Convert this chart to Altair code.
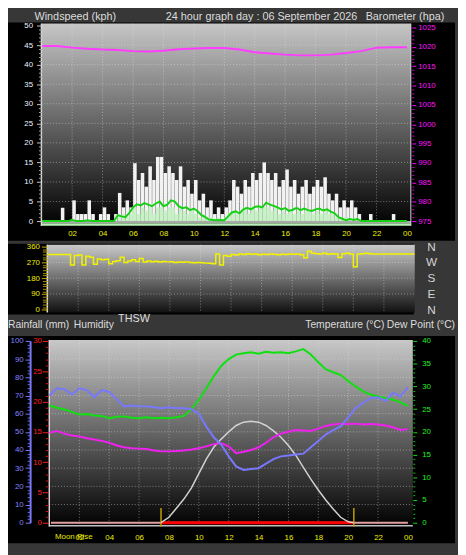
import altair as alt
import pandas as pd

FONT = "Liberation Sans"
W, H = 458, 547
BG = "#373737"

# ---------------- values ----------------
title_left = "Windspeed (kph)"
title_mid = "24 hour graph day : 06 September 2026"
title_right = "Barometer (hpa)"

baro_hour = list(range(25))
baro_hpa = [1020.2, 1020.2, 1019.8, 1019.5, 1019.3, 1019.2, 1018.9, 1018.8,
            1019.0, 1019.4, 1019.6, 1019.7, 1019.7, 1019.3, 1018.6, 1018.3,
            1018.0, 1017.8, 1017.8, 1018.0, 1018.4, 1018.9, 1019.8, 1019.9, 1019.9]

# 15-minute wind gusts (white bars)
gust_kph = [0, 0, 0, 0, 0, 3.4, 0, 0, 5.3, 1.8, 1.8, 1.8, 5.3, 1.8, 0, 1.8, 3.5, 1.8, 0, 1.8,
            7.2, 3.5, 5.3, 3.5, 14.8, 10.5, 12.3, 8.8, 14.0, 10.5, 16.4, 16.4, 12.3, 14.0, 12.3, 10.5, 14.0, 8.8, 10.5, 7.0,
            10.5, 5.3, 7.0, 3.5, 5.3, 1.8, 3.5, 1.8, 3.5, 5.3, 10.5, 8.8, 7.0, 10.5, 8.8, 12.3, 10.5, 12.3, 15.0, 12.3,
            10.5, 12.3, 8.8, 10.5, 13.2, 8.8, 10.5, 7.0, 8.8, 10.5, 7.0, 8.8, 10.5, 8.8, 11.2, 7.0, 5.3, 7.0, 3.5, 5.3,
            3.5, 5.3, 3.5, 1.8, 0, 0, 1.8, 0, 0, 0, 0, 0, 1.8, 0, 0, 0]
# 15-minute average wind (light green bars)
avg_bar_kph = [0, 0, 0, 0, 0, 0, 0, 0, 0, 0, 0, 0, 0, 0, 0, 0, 0, 0, 0, 0,
               0.9, 1.8, 0.9, 1.8, 3.5, 1.8, 3.5, 2.6, 3.5, 1.8, 3.5, 3.5, 2.6, 3.5, 3.5, 1.8, 3.5, 2.6, 1.8, 2.6,
               1.8, 0.9, 1.8, 0.9, 0.9, 0, 0.9, 0, 0.9, 1.8, 2.6, 1.8, 2.6, 3.5, 1.8, 3.5, 2.6, 3.5, 3.5, 3.5,
               2.6, 3.5, 1.8, 2.6, 1.8, 2.6, 1.8, 2.6, 1.8, 2.6, 2.6, 1.8, 2.6, 1.8, 2.6, 1.8, 1.8, 0.9, 0.9, 0.9,
               0.9, 0, 0.9, 0, 0, 0, 0, 0, 0, 0, 0, 0, 0, 0, 0, 0]
# average wind line, every 15 minutes from 00:00 to 24:00
avg_line_kph = [0, 0, 0, 0, 0, 0, 0, 0, 0.3, 0, 0, 0, 0.2, 0, 0, 0, 0, 0, 0, 0,
                1.5, 1.2, 1.0, 2.0, 3.5, 4.3, 4.0, 4.6, 4.2, 3.8, 4.5, 5.0, 3.8, 4.2, 5.3, 5.0, 3.8, 3.3, 3.5, 2.8,
                3.2, 2.5, 1.5, 1.0, 0.4, 0.3, 0.2, 0.3, 0.2, 1.2, 2.2, 2.5, 2.0, 3.0, 3.4, 3.0, 3.6, 3.8, 3.5, 4.7,
                4.2, 3.9, 3.5, 3.0, 3.3, 2.6, 2.9, 3.4, 2.8, 3.2, 2.8, 2.6, 3.0, 3.2, 2.7, 3.0, 2.4, 2.0, 1.0, 0.6,
                0.2, 0.5, 0.3, 0.5, 0, 0, 0, 0, 0, 0, 0, 0, 0, 0, 0, 0, 0]
# wind direction, every 15 minutes
dir_deg = [315, 315, 315, 315, 315, 315,
           255, 310, 312, 255, 305, 300, 260, 290, 285, 288, 262, 275, 280, 300, 270, 278, 285, 275, 292, 272, 278,
           274, 276, 272, 275, 273, 274, 270, 272, 271, 273, 270, 268, 270, 268,
           266, 265, 262, 318, 255, 310, 305, 315,
           312, 318, 315, 320, 316, 318, 314, 317, 315, 318, 316, 314, 317, 315, 318, 316, 318, 314, 296, 334,
           322, 320, 318, 322, 316, 320, 318, 298, 320, 322, 318, 245, 318, 320, 322, 320,
           318, 318, 318, 318, 318, 318, 318, 318, 318, 318, 318, 318]

# half-hourly humidity / temperature / dew point
hum_pct = [70, 74, 73.5, 70.5, 74, 73, 69, 73, 72, 68, 64, 64.5, 64, 64, 63.5, 63, 63.5, 63, 63, 62.5,
           60, 53, 47, 43, 36.5, 31, 29, 29.5, 30, 32.5, 35, 36.5, 37, 37.5, 38, 41.5, 45, 48.5, 51, 53,
           58, 63, 66, 68.5, 69, 67, 71.5, 69.5, 74.5]
temp_c = [25.8, 25.3, 24.9, 24.4, 23.8, 23.9, 23.6, 23.5, 23.0, 23.3, 23.4, 23.1, 23.0, 23.2, 23.0, 23.1, 23.0,
          23.2, 23.5, 25.0, 27.0, 29.6, 32.2, 34.5, 36.0, 37.0, 37.3, 37.5, 37.2, 37.6, 37.4, 37.5, 37.3, 37.7,
          38.2, 37.0, 35.3, 33.8, 33.1, 32.5, 31.2, 30.0, 28.9, 28.2, 27.8, 27.4, 27.1, 26.5, 25.7]
dew_c = [19.8, 20.2, 19.6, 19.2, 19.0, 18.6, 18.3, 18.0, 17.6, 17.0, 16.6, 16.4, 16.3, 16.2, 15.9, 15.7, 15.7,
         15.8, 15.9, 16.1, 16.4, 16.8, 17.3, 17.5, 16.8, 15.3, 15.6, 16.0, 16.6, 17.6, 18.8, 19.6, 20.0, 20.4,
         20.3, 20.2, 20.7, 21.3, 21.6, 21.8, 21.7, 21.8, 21.6, 21.7, 21.6, 21.4, 21.0, 20.4, 20.6]

solar_hour = [7.47, 8.0, 8.5, 9.0, 9.5, 10.0, 10.5, 11.0, 11.5, 12.0, 12.5, 13.0, 13.5, 14.0, 14.5,
              15.0, 15.5, 16.0, 16.5, 17.0, 17.5, 18.0, 18.5, 19.0, 19.5, 20.0, 20.38]
solar_rel = [0, 3, 8, 13, 19, 27, 35, 41.5, 46, 50, 53.5, 55.3, 55.8, 55.3, 53.5,
             50.5, 47, 42.5, 37, 30.5, 24, 18, 12.5, 7.5, 3, 0.5, 0]

sunrise_hour = 7.47
sunset_hour = 20.38
rain_hour = [0.1, 24]
rain_mm = [0, 0]

grid_hours = [2, 4, 6, 8, 10, 12, 14, 16, 18, 20, 22]
hour_ticks = [2, 4, 6, 8, 10, 12, 14, 16, 18, 20, 22, 24]
wind_ticks = [0, 5, 10, 15, 20, 25, 30, 35, 40, 45, 50]
baro_ticks = [975, 980, 985, 990, 995, 1000, 1005, 1010, 1015, 1020, 1025]
dir_ticks = [0, 90, 180, 270, 360]
compass = ["N", "E", "S", "W", "N"]
hum_ticks = [0, 10, 20, 30, 40, 50, 60, 70, 80, 90, 100]
rain_ticks = [0, 5, 10, 15, 20, 25, 30]
temp_ticks = [0, 5, 10, 15, 20, 25, 30, 35, 40]

# ---------------- tables ----------------
q_mid = [i * 0.25 + 0.125 for i in range(96)]
q_pt = [i * 0.25 for i in range(97)]
h_half = [i * 0.5 for i in range(49)]
df_bar = pd.DataFrame({"h": q_mid, "gust": gust_kph, "avg": avg_bar_kph, "base": [0.0] * 96})
df_wline = pd.DataFrame({"h": q_pt, "v": avg_line_kph})
df_dir = pd.DataFrame({"h": q_pt, "v": dir_deg})
df_baro = pd.DataFrame({"h": baro_hour, "v": baro_hpa})
df_th = pd.DataFrame({"h": h_half, "hum": hum_pct, "t": temp_c, "d": dew_c})
df_solar = pd.DataFrame({"h": solar_hour, "v": solar_rel})
df_rain = pd.DataFrame({"h": rain_hour, "v": rain_mm})
df_day = pd.DataFrame({"h": [sunrise_hour, sunset_hour], "v": [0, 0]})
df_sun = pd.DataFrame({"h": [sunrise_hour, sunset_hour]})
df_compass = pd.DataFrame({"v": dir_ticks, "t": compass})
ONE = pd.DataFrame({"k": [0]})


def sc(domain, rng):
    return alt.Scale(domain=domain, range=rng, nice=False, zero=False, padding=0)


X1 = sc([0, 24], [34.3, 406.0])
Y_WIND = sc([0, 50], [212, 13])
Y_BARO = sc([975, 1025], [212, 15])
X2 = sc([0, 24], [40.3, 413.7])
Y_DIR = sc([0, 360], [302.3, 238])
X3 = sc([0, 24], [42.2, 407.0])
Y_HUM = sc([0, 100], [519, 334])
Y_RAIN = sc([0, 30], [519, 334])
Y_TEMP = sc([0, 40], [519, 334])
Y_SOL = sc([0, 100], [519, 334])


def ax(**kw):
    base = dict(title=None, grid=False, zindex=1, labelFont=FONT, labelFontSize=8,
                labelOverlap=False, labelFlush=False, domain=False, format="d")
    base.update(kw)
    return alt.Axis(**base)


def grad(top, bottom):
    return alt.Gradient(gradient="linear", x1=0, y1=0, x2=0, y2=1,
                        stops=[alt.GradientStop(color=top, offset=0),
                               alt.GradientStop(color=bottom, offset=1)])


def rect(x0, x1, y0, y1, color):
    return alt.Chart(ONE).mark_rect(color=color).encode(
        x=alt.value(x0), x2=alt.value(x1), y=alt.value(y0), y2=alt.value(y1))


def seg(x0, x1, y0, y1, color, w):
    return alt.Chart(ONE).mark_rule(color=color, strokeWidth=w).encode(
        x=alt.value(x0), x2=alt.value(x1), y=alt.value(y0), y2=alt.value(y1))


def label(s, x, y, color, size, align="left"):
    return alt.Chart(ONE).mark_text(text=s, align=align, baseline="middle", font=FONT,
                                    fontSize=size, color=color).encode(x=alt.value(x), y=alt.value(y))


def vgrid(xscale, y0, y1):
    return alt.Chart(pd.DataFrame({"h": grid_hours})).mark_rule(
        color="#e8e8e8", strokeDash=[1, 2], opacity=0.45, strokeWidth=1).encode(
        x=alt.X("h:Q", scale=xscale, axis=None), y=alt.value(y0), y2=alt.value(y1))


def hgrid(vals, yscale, x0, x1):
    return alt.Chart(pd.DataFrame({"v": vals})).mark_rule(
        color="#e8e8e8", strokeDash=[1, 2], opacity=0.45, strokeWidth=1).encode(
        y=alt.Y("v:Q", scale=yscale, axis=None), x=alt.value(x0), x2=alt.value(x1))


def y_axis(vals, scale, axis):
    return alt.Chart(pd.DataFrame({"v": vals})).mark_point(opacity=0).encode(
        y=alt.Y("v:Q", scale=scale, axis=axis))


def x_axis(vals, scale, axis):
    return alt.Chart(pd.DataFrame({"v": vals})).mark_point(opacity=0).encode(
        x=alt.X("v:Q", scale=scale, axis=axis))


HOUR_EXPR = "datum.value >= 24 ? '00' : (datum.value < 10 ? '0' + datum.value : '' + datum.value)"
TXT = "#dcdcdc"

layers = []
# ---- title strip ----
layers += [
    label(title_left, 27, 4.5, TXT, 11),
    label(title_mid, 258, 4.5, TXT, 11, "center"),
    label(title_right, 364, 4.5, TXT, 11),
]

# ---- panel 1 : wind + barometer ----
layers += [
    rect(0, 455, 10, 232, "#000000"),
    rect(34, 410, 11, 217, grad("#c6c6c6", "#000000")),
    vgrid(X1, 11, 212),
    hgrid([5, 10, 15, 20, 25, 30, 35, 40, 45], Y_WIND, 34, 410),
    alt.Chart(df_bar).mark_bar(width=3.6, color="#f2f2f2").encode(
        x=alt.X("h:Q", scale=X1, axis=None),
        y=alt.Y("gust:Q", scale=Y_WIND, axis=None), y2="base"),
    alt.Chart(df_bar).mark_bar(width=3.6, color="#c6f2c6").encode(
        x=alt.X("h:Q", scale=X1, axis=None),
        y=alt.Y("avg:Q", scale=Y_WIND, axis=None), y2="base"),
    seg(34, 410, 213, 213, "#a8a8a8", 2),
    seg(34, 410, 215.5, 215.5, "#b8f0b8", 2.5),
    alt.Chart(df_wline).mark_line(color="#16d016", strokeWidth=2).encode(
        x=alt.X("h:Q", scale=X1, axis=None), y=alt.Y("v:Q", scale=Y_WIND, axis=None)),
    alt.Chart(df_baro).mark_line(color="#ff3cff", strokeWidth=2).encode(
        x=alt.X("h:Q", scale=X1, axis=None), y=alt.Y("v:Q", scale=Y_BARO, axis=None)),
    seg(34, 34, 11, 217, "#d8d8d8", 1.5),
    seg(410, 410, 11, 217, "#d8d8d8", 1),
    y_axis(wind_ticks, Y_WIND, ax(orient="left", offset=-34, values=wind_ticks, tickSize=5,
                                   tickColor="#c8c8c8", labelColor="#eef4ff", labelPadding=4)),
    y_axis(wind_ticks, Y_WIND, ax(orient="left", offset=-34,
                                   values=[v for v in range(51) if v % 5], tickSize=3,
                                   tickColor="#a0a0a0", labels=False)),
    y_axis(baro_ticks, Y_BARO, ax(orient="right", offset=-47, values=baro_ticks, tickSize=4,
                                   tickColor="#ff00ff", labelColor="#ff10ff", labelPadding=2)),
    y_axis(baro_ticks, Y_BARO, ax(orient="right", offset=-47,
                                   values=[v for v in range(975, 1026) if v % 5], tickSize=2,
                                   tickColor="#d000d0", labels=False)),
    x_axis(hour_ticks, X1, ax(orient="bottom", offset=-330, values=hour_ticks, ticks=False,
                               tickSize=0, labelColor="#f0f000", labelPadding=4,
                               labelExpr=HOUR_EXPR)),
]

# ---- panel 2 : wind direction ----
layers += [
    rect(0, 413, 235, 307, "#000000"),
    rect(40, 414, 236, 305, grad("#cacaca", "#111111")),
    hgrid([90, 180, 270], Y_DIR, 40, 414),
    vgrid(X2, 236, 305),
    seg(40, 40, 236, 305, "#e0e0e0", 1.5),
    alt.Chart(df_dir).mark_line(color="#f2f200", strokeWidth=1.5, interpolate="step-after").encode(
        x=alt.X("h:Q", scale=X2, axis=None), y=alt.Y("v:Q", scale=Y_DIR, axis=None)),
    y_axis(dir_ticks, Y_DIR, ax(orient="left", offset=-40, values=dir_ticks, tickSize=6,
                                 tickColor="#c8b400", labelColor="#f0f000", labelPadding=2)),
    y_axis(dir_ticks, Y_DIR, ax(orient="left", offset=-40,
                                 values=[v for v in range(0, 361, 15) if v % 90], tickSize=5,
                                 tickColor="#a89400", labels=False)),
    alt.Chart(df_compass).mark_text(font=FONT, fontSize=12, color="#d4d4d4", align="center",
                                    baseline="middle").encode(
        y=alt.Y("v:Q", scale=Y_DIR, axis=None), x=alt.value(431), text="t:N"),
]

# ---- label strip ----
layers += [
    label("THSW", 112, 311.5, TXT, 11),
    label("Rainfall (mm)", 0, 318, TXT, 10.5),
    label("Humidity", 67, 318, TXT, 10.5),
    label("Temperature (°C)", 383, 318, TXT, 10.5, "right"),
    label("Dew Point (°C)", 455, 318, TXT, 10.5, "right"),
]

# ---- panel 3 : humidity / temperature / dew point ----
layers += [
    rect(0, 455, 329, 540, "#000000"),
    rect(42, 412, 333, 523, grad("#c8c8c8", "#000000")),
    hgrid([10, 20, 30, 40, 50, 60, 70, 80, 90], Y_HUM, 42, 412),
    vgrid(X3, 333, 521),
    seg(42, 42, 333, 523, "#d8d8d8", 1.5),
    seg(42, 412, 522, 522, "#c0c0c0", 1.5),
    alt.Chart(df_rain).mark_line(color="#e4a0a0", strokeWidth=2).encode(
        x=alt.X("h:Q", scale=X3, axis=None), y=alt.Y("v:Q", scale=Y_RAIN, axis=None)),
    alt.Chart(df_day).mark_line(color="#ff0000", strokeWidth=3).encode(
        x=alt.X("h:Q", scale=X3, axis=None), y=alt.Y("v:Q", scale=Y_RAIN, axis=None)),
    alt.Chart(df_sun).mark_rule(color="#c0a000", strokeWidth=1.5).encode(
        x=alt.X("h:Q", scale=X3, axis=None), y=alt.value(504), y2=alt.value(523)),
    alt.Chart(df_solar).mark_line(color="#d2d2d2", strokeWidth=1.5).encode(
        x=alt.X("h:Q", scale=X3, axis=None), y=alt.Y("v:Q", scale=Y_SOL, axis=None)),
    alt.Chart(df_th).mark_line(color="#10e010", strokeWidth=2).encode(
        x=alt.X("h:Q", scale=X3, axis=None), y=alt.Y("t:Q", scale=Y_TEMP, axis=None)),
    alt.Chart(df_th).mark_line(color="#f020f0", strokeWidth=2).encode(
        x=alt.X("h:Q", scale=X3, axis=None), y=alt.Y("d:Q", scale=Y_TEMP, axis=None)),
    alt.Chart(df_th).mark_line(color="#7878ff", strokeWidth=2).encode(
        x=alt.X("h:Q", scale=X3, axis=None), y=alt.Y("hum:Q", scale=Y_HUM, axis=None)),
    y_axis(hum_ticks, Y_HUM, ax(orient="left", offset=-22.5, values=hum_ticks, domain=True,
                                 domainColor="#7a7aff", domainWidth=2, tickSize=5,
                                 tickColor="#7a7aff", labelColor="#8484ff", labelPadding=2)),
    y_axis(hum_ticks, Y_HUM, ax(orient="left", offset=-22.5,
                                 values=[v for v in range(0, 101, 2) if v % 10], tickSize=3,
                                 tickColor="#6a6aee", labels=False)),
    y_axis(rain_ticks, Y_RAIN, ax(orient="left", offset=-41, values=rain_ticks, tickSize=6,
                                   tickColor="#ff2020", labelColor="#ff2020", labelPadding=1)),
    y_axis(rain_ticks, Y_RAIN, ax(orient="left", offset=-41,
                                   values=[v for v in range(31) if v % 5], tickSize=3,
                                   tickColor="#e01010", labels=False)),
    y_axis(temp_ticks, Y_TEMP, ax(orient="right", offset=-46, values=temp_ticks, tickSize=4,
                                   tickColor="#10e010", labelColor="#20f020", labelPadding=5)),
    y_axis(temp_ticks, Y_TEMP, ax(orient="right", offset=-46,
                                   values=[v for v in range(41) if v % 5], tickSize=2,
                                   tickColor="#10c010", labels=False)),
    label("Moon Rise", 67, 533.7, "#e8e800", 8, "center"),
    x_axis(hour_ticks, X3, ax(orient="bottom", offset=-24, values=hour_ticks, ticks=False,
                               tickSize=0, labelColor="#f0f000", labelPadding=7,
                               labelExpr=HOUR_EXPR)),
]

chart = alt.layer(*layers).resolve_scale(
    x="independent", y="independent"
).properties(
    width=W, height=H, autosize="none", padding=0, background=BG
).configure_view(strokeWidth=0)

chart.save("out.html", embed_options={"renderer": "svg", "actions": False})
